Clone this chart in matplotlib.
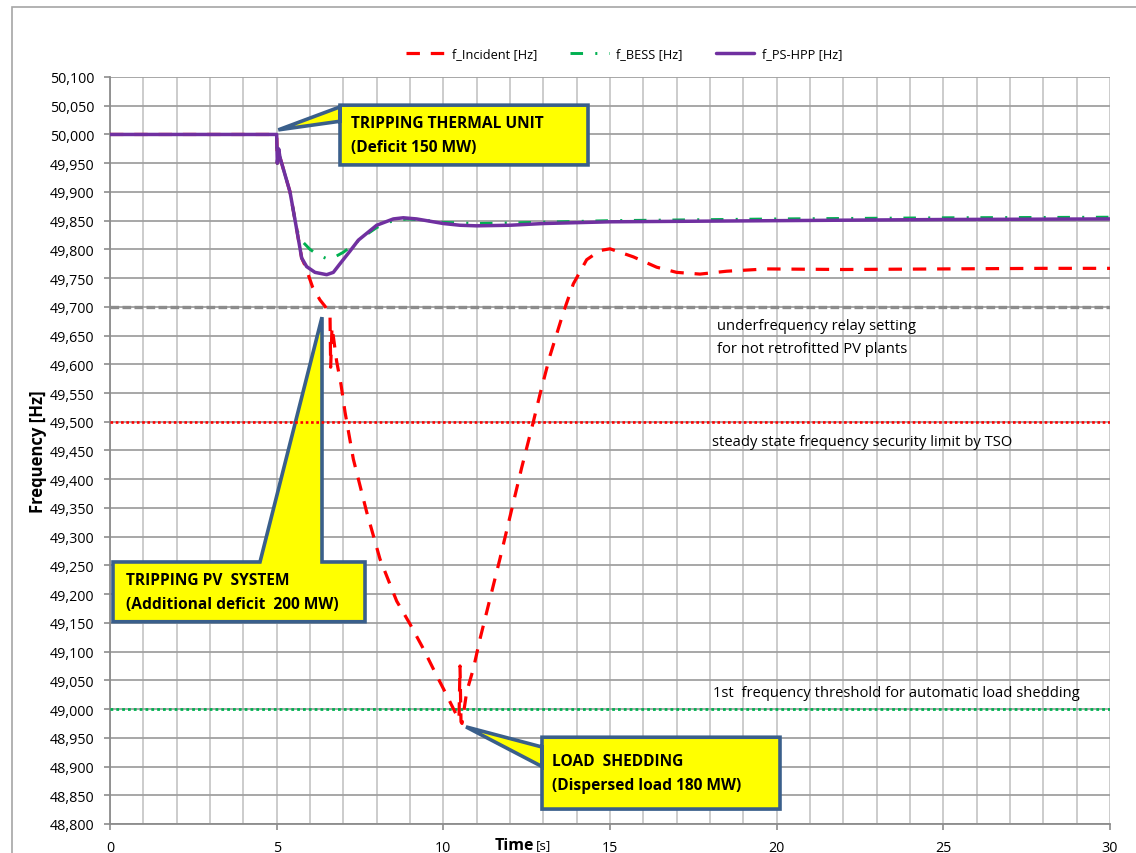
import matplotlib
matplotlib.use("Agg")
import matplotlib.pyplot as plt
from matplotlib.patches import Polygon, Rectangle
from matplotlib.ticker import MultipleLocator, FuncFormatter

plt.rcParams['font.family'] = ['Open Sans', 'DejaVu Sans']

# time [s] / frequency [Hz]
t_incident = [0, 5.0, 5.02, 5.06, 5.1, 5.4, 5.6, 5.75, 5.85, 6.08, 6.3, 6.45, 6.6, 6.62,
              6.66, 6.72, 6.8, 6.93, 7.05, 7.3, 7.7, 8.1, 8.6, 9.0, 9.4, 9.75, 10.05,
              10.35, 10.47, 10.5, 10.53, 10.56, 10.65, 10.7, 10.9, 11.1, 11.4, 11.7,
              12.0, 12.35, 12.7, 12.9, 13.2, 13.6, 13.9, 14.3, 14.7, 15.0, 15.7, 16.4,
              17.0, 17.7, 18.5, 19.7, 22.0, 25.0, 28.0, 30.0]
f_incident = [50.000, 50.000, 49.950, 49.975, 49.960, 49.900, 49.835, 49.785, 49.772,
              49.734, 49.712, 49.701, 49.688, 49.595, 49.665, 49.640, 49.605, 49.565,
              49.517, 49.435, 49.343, 49.261, 49.188, 49.148, 49.105, 49.064, 49.030,
              48.995, 48.982, 49.075, 48.978, 48.975, 49.010, 49.030, 49.070, 49.122,
              49.192, 49.262, 49.335, 49.420, 49.500, 49.548, 49.615, 49.690, 49.740,
              49.782, 49.798, 49.801, 49.787, 49.769, 49.760, 49.757, 49.762, 49.766,
              49.765, 49.766, 49.767, 49.767]

t_bess = [0, 5.0, 5.02, 5.06, 5.1, 5.4, 5.6, 5.75, 6.0, 6.25, 6.5, 6.75, 7.0, 7.3, 7.6,
          8.0, 8.4, 8.9, 9.4, 10.0, 11.0, 12.0, 15.0, 20.0, 25.0, 30.0]
f_bess = [50.000, 50.000, 49.950, 49.975, 49.960, 49.900, 49.835, 49.815, 49.800,
          49.790, 49.784, 49.787, 49.795, 49.808, 49.822, 49.838, 49.848, 49.853,
          49.851, 49.847, 49.845, 49.846, 49.850, 49.853, 49.855, 49.856]

t_pshpp = [0, 5.0, 5.02, 5.06, 5.1, 5.4, 5.6, 5.75, 5.9, 6.15, 6.5, 6.7, 6.9, 7.2, 7.45,
           8.0, 8.5, 8.8, 9.2, 9.6, 10.0, 10.5, 11.0, 12.0, 13.0, 15.0, 20.0, 25.0, 30.0]
f_pshpp = [50.000, 50.000, 49.950, 49.975, 49.960, 49.900, 49.835, 49.785, 49.770,
           49.760, 49.756, 49.760, 49.775, 49.797, 49.816, 49.842, 49.853, 49.855,
           49.853, 49.849, 49.845, 49.842, 49.841, 49.842, 49.845, 49.848, 49.850,
           49.852, 49.853]

thresholds = [49.70, 49.50, 49.00]
threshold_labels = ["underfrequency relay setting\nfor not retrofitted PV plants",
                    "steady state frequency security limit by TSO",
                    "1st  frequency threshold for automatic load shedding"]

fig = plt.figure(figsize=(11.36, 8.54), dpi=100)
ax = fig.add_axes([110 / 1136, 1 - 825 / 854, 1000 / 1136, 747 / 854])

# outer chart frame
fig.patches.append(Rectangle((12 / 1136, -0.1), 1.2, 0.1 + 1 - 8 / 854,
                             transform=fig.transFigure, fill=False,
                             edgecolor='#A6A6A6', linewidth=1.2))

ax.set_xlim(0, 30)
ax.set_ylim(48.8, 50.1)
ax.xaxis.set_major_locator(MultipleLocator(5))
ax.xaxis.set_minor_locator(MultipleLocator(1))
ax.yaxis.set_major_locator(MultipleLocator(0.05))
ax.yaxis.set_major_formatter(FuncFormatter(lambda v, p: f"{v:.3f}".replace('.', ',')))

ax.grid(which='both', axis='x', color='#C8C8C8', linewidth=1.3, zorder=0)
ax.grid(which='major', axis='y', color='#A0A0A0', linewidth=1.3, zorder=0)
ax.set_axisbelow(True)
for s in ['top', 'right']:
    ax.spines[s].set_visible(False)
for s in ['left', 'bottom']:
    ax.spines[s].set_color('#8C8C8C')
    ax.spines[s].set_linewidth(1.3)
ax.tick_params(axis='both', which='major', colors='#8C8C8C', labelcolor='black',
               labelsize=10.3, length=4.5, width=1.2)
ax.tick_params(axis='x', which='major', pad=7)
ax.tick_params(axis='y', which='major', pad=7)
ax.tick_params(axis='x', which='minor', length=0)

# callouts (box + wedge), in data coordinates
def callout(box, wedge, side, text, pad_x, zorder=3):
    x0, x1, y0, y1 = box
    tip, b0, b1 = wedge
    if side == 'left':
        pts = [(x0, y1), (x1, y1), (x1, y0), (x0, y0), (x0, b1), tip, (x0, b0)]
    else:  # top
        pts = [(x0, y1), (b0, y1), tip, (b1, y1), (x1, y1), (x1, y0), (x0, y0)]
    ax.add_patch(Polygon(pts, closed=True, facecolor='#FFFF00', edgecolor='#3A5F8B',
                         linewidth=2.6, joinstyle='miter', zorder=zorder))
    ax.text(x0 + pad_x, (y0 + y1) / 2, text, ha='left', va='center', fontsize=11.2,
            fontweight='bold', linespacing=1.65, zorder=zorder + 0.1)

callout((6.9, 14.34, 49.947, 50.051), ((5.05, 50.008), 50.023, 50.048), 'left',
        "TRIPPING THERMAL UNIT\n(Deficit 150 MW)", 0.33)
callout((0.09, 7.65, 49.152, 49.256), ((6.36, 49.682), 4.5, 6.36), 'top',
        "TRIPPING PV  SYSTEM\n(Additional deficit  200 MW)", 0.38)
callout((12.96, 20.1, 48.826, 48.951), ((10.68, 48.969), 48.900, 48.934), 'left',
        "LOAD  SHEDDING\n(Dispersed load 180 MW)", 0.3)

# reference lines
ax.axhline(thresholds[0], color='#8C8C8C', linewidth=2.4, dashes=(2.6, 1.0), zorder=4)
ax.axhline(thresholds[1], color='#FF0000', linewidth=1.9, dashes=(1.0, 1.0), zorder=4)
ax.axhline(thresholds[2], color='#00B050', linewidth=2.0, dashes=(1.0, 1.1), zorder=4)
ax.text(18.2, 49.647, threshold_labels[0], fontsize=10.6, va='center', ha='left',
        linespacing=1.7)
ax.text(18.05, 49.465, threshold_labels[1], fontsize=10.6, va='center', ha='left')
ax.text(18.1, 49.028, threshold_labels[2], fontsize=10.6, va='center', ha='left')

# frequency curves
ax.plot(t_incident, f_incident, color='#FF0000', linewidth=2.3, dashes=(4.2, 3.4),
        label='f_Incident [Hz]', zorder=5)
ax.plot(t_bess, f_bess, color='#00B050', linewidth=2.1, dashes=(4.3, 4.2, 0.7, 4.0),
        label='f_BESS [Hz]', zorder=5)
ax.plot(t_pshpp, f_pshpp, color='#7030A0', linewidth=2.5, label='f_PS-HPP [Hz]',
        solid_capstyle='round', zorder=6)

leg = ax.legend(loc='center', bbox_to_anchor=(624 / 1136, 1 - 55 / 854),
                bbox_transform=fig.transFigure, ncol=3, frameon=False, fontsize=9.2,
                handlelength=3.0, handletextpad=0.6, columnspacing=2.6)

ax.set_ylabel("Frequency [Hz]", fontsize=12, fontweight='bold', labelpad=2)
fig.text(495 / 1136, 1 - 846 / 854, "Time", fontsize=11.5, fontweight='bold',
         ha='left', va='center')
fig.text(536 / 1136, 1 - 846 / 854, "[s]", fontsize=9.5, ha='left', va='center')

fig.savefig("out.png", dpi=100)
